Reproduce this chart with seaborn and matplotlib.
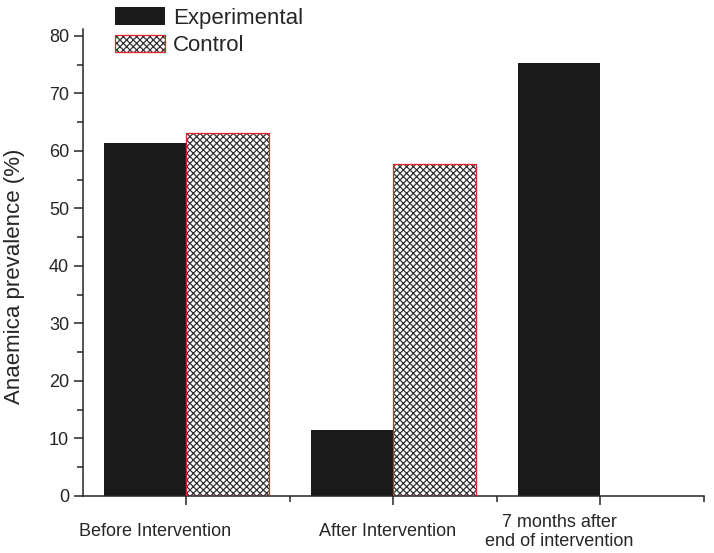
import matplotlib
matplotlib.use("Agg")
import matplotlib.pyplot as plt
from matplotlib.patches import Patch, Rectangle
from matplotlib.ticker import MultipleLocator, FixedLocator
import pandas as pd
import seaborn as sns

# values
periods = ["Before Intervention", "After Intervention", "7 months after\nend of intervention"]
experimental = [61.3, 11.5, 75.3]
control = [63.1, 57.7, None]
groups = ["Experimental", "Control"]
# tick labels in the original sit a little left of the tick marks
label_shift = [-0.15, -0.03, -0.2]

rows = []
for p, e, c in zip(periods, experimental, control):
    rows.append({"Period": p, "Group": "Experimental", "Prevalence": e})
    if c is not None:
        rows.append({"Period": p, "Group": "Control", "Prevalence": c})
df = pd.DataFrame(rows)

sns.set_style("ticks")
plt.rcParams["font.family"] = ["Liberation Sans", "DejaVu Sans"]
plt.rcParams["hatch.linewidth"] = 0.9

HATCH = "xxxxx"
RED = "#e8202a"

fig = plt.figure(figsize=(7.14, 5.53), dpi=100)
ax = fig.add_axes([0.1162, 0.1031, 0.8697, 0.8445])

sns.barplot(data=df, x="Period", y="Prevalence", hue="Group",
            order=periods, hue_order=groups, palette=["#1a1a1a", "white"],
            width=0.8, linewidth=0, errorbar=None, legend=False, ax=ax)

# hatched control bars: black hatch, thin red outline on top
for bar in ax.containers[1]:
    bar.set_hatch(HATCH)
    bar.set_edgecolor("#333333")
    bar.set_linewidth(0)
    ax.add_patch(Rectangle(bar.get_xy(), bar.get_width(), bar.get_height(),
                           fill=False, edgecolor=RED, linewidth=0.9, zorder=3))

ax.set_xlim(-0.5, 2.5)
ax.set_ylim(0, 81.2)
ax.yaxis.set_major_locator(MultipleLocator(10))
ax.yaxis.set_minor_locator(MultipleLocator(5))
ax.set_xticks(range(len(periods)))
ax.set_xticklabels([])
ax.xaxis.set_minor_locator(FixedLocator([0.5, 1.5, 2.5]))

sns.despine(ax=ax)
for s in ["left", "bottom"]:
    ax.spines[s].set_linewidth(1.1)
ax.tick_params(which="major", direction="out", length=6.5, width=1.1, labelsize=13, pad=3.5)
ax.tick_params(which="minor", direction="out", length=4, width=1.1)

for i, (lab, sh) in enumerate(zip(periods, label_shift)):
    ax.text(i + sh, -0.077, lab, transform=ax.get_xaxis_transform(),
            ha="center", va="center", fontsize=13, linespacing=1.15)

ax.set_xlabel("")
ax.set_ylabel("Anaemica prevalence (%)", fontsize=16)
ax.yaxis.set_label_coords(-0.093, 0.47)

h_exp = Patch(facecolor="#1a1a1a", edgecolor="none")
h_ctl = (Patch(facecolor="white", edgecolor="#333333", hatch=HATCH, linewidth=0),
         Patch(fill=False, edgecolor=RED, linewidth=0.9))
fig.legend([h_exp, h_ctl], groups, loc="upper left",
           bbox_to_anchor=(115 / 714, 1 - 7 / 553), frameon=False, fontsize=16,
           handlelength=2.25, handleheight=0.86, handletextpad=0.36,
           labelspacing=0.27, borderpad=0, borderaxespad=0)

fig.savefig("out.png", dpi=100)
